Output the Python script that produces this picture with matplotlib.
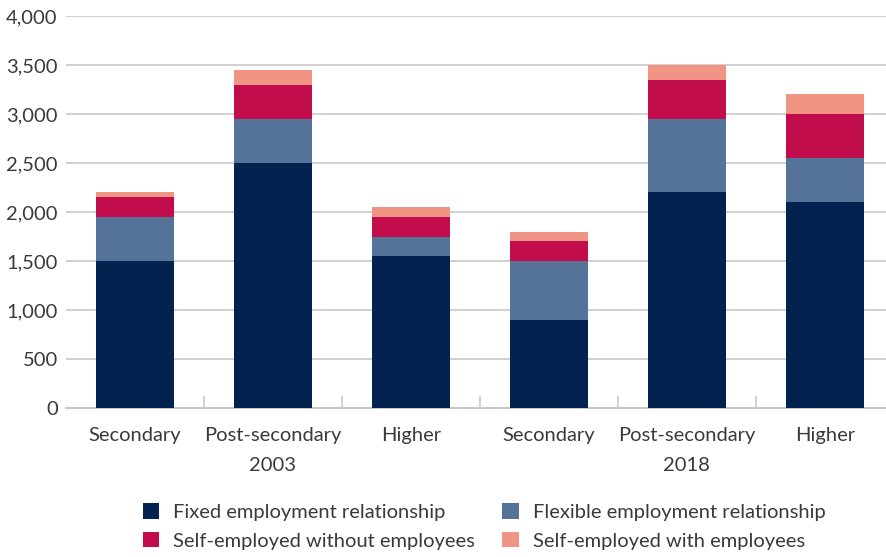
import matplotlib
matplotlib.use("Agg")
import matplotlib.pyplot as plt
import matplotlib.transforms as mtransforms
import numpy as np

plt.rcParams["font.family"] = ["Lato", "DejaVu Sans"]

categories = ["Secondary", "Post-secondary", "Higher", "Secondary", "Post-secondary", "Higher"]
groups = ["2003", "2018"]
fixed = [1500, 2500, 1550, 900, 2200, 2100]
flexible = [450, 450, 200, 600, 750, 450]
self_no_emp = [200, 350, 200, 200, 400, 450]
self_with_emp = [50, 150, 100, 100, 150, 200]

series = [
    ("Fixed employment relationship", fixed, "#02234f"),
    ("Flexible employment relationship", flexible, "#557398"),
    ("Self-employed without employees", self_no_emp, "#c20d4d"),
    ("Self-employed with employees", self_with_emp, "#f09583"),
]

TEXT = "#3a3a3a"
GRID = "#c8c8c8"


def main():
    fig = plt.figure(figsize=(8.87, 5.57), dpi=100)
    ax = fig.add_axes([66 / 887, 1 - 408 / 557, 1 - 66 / 887, (408 - 16) / 557])

    x = np.arange(len(categories))
    bottom = np.zeros(len(categories))
    handles = {}
    for name, vals, color in series:
        b = ax.bar(x, vals, width=0.56, bottom=bottom, color=color, label=name, zorder=3)
        handles[name] = b
        bottom += np.array(vals)

    ax.set_ylim(0, 4000)
    ax.set_xlim(-0.5, 5.45)
    ax.set_yticks(np.arange(0, 4001, 500))
    ax.set_yticklabels([f"{v:,}" for v in range(0, 4001, 500)])
    ax.yaxis.grid(True, color=GRID, linewidth=1.2, zorder=0)
    ax.set_axisbelow(True)

    for s in ["top", "right", "left"]:
        ax.spines[s].set_visible(False)
    ax.spines["bottom"].set_color(GRID)
    ax.spines["bottom"].set_linewidth(1.5)

    ax.set_xticks(x)
    ax.set_xticklabels(categories)
    ax.set_xticks(np.arange(0.5, 5, 1), minor=True)
    ax.tick_params(axis="x", which="major", length=0, pad=14, labelsize=14.5, labelcolor=TEXT)
    ax.tick_params(axis="x", which="minor", direction="in", length=9, width=1.2, color=GRID)
    ax.tick_params(axis="y", length=0, pad=6, labelsize=14.5, labelcolor=TEXT)

    trans = mtransforms.blended_transform_factory(ax.transData, ax.transAxes)
    for i, g in enumerate(groups):
        ax.text(1 + 3 * i, -0.146, g, transform=trans, ha="center", va="center",
                fontsize=14.5, color=TEXT)

    order = ["Fixed employment relationship", "Self-employed without employees",
             "Flexible employment relationship", "Self-employed with employees"]
    fig.legend([handles[n] for n in order], order, ncol=2, loc="center",
               bbox_to_anchor=(0.546, 0.055), frameon=False, fontsize=14.5,
               labelcolor=TEXT, handlelength=0.8, handleheight=0.8,
               handletextpad=0.7, columnspacing=1.35, labelspacing=0.55)

    fig.savefig("out.png", dpi=100)
    plt.close(fig)


if __name__ == "__main__":
    main()
